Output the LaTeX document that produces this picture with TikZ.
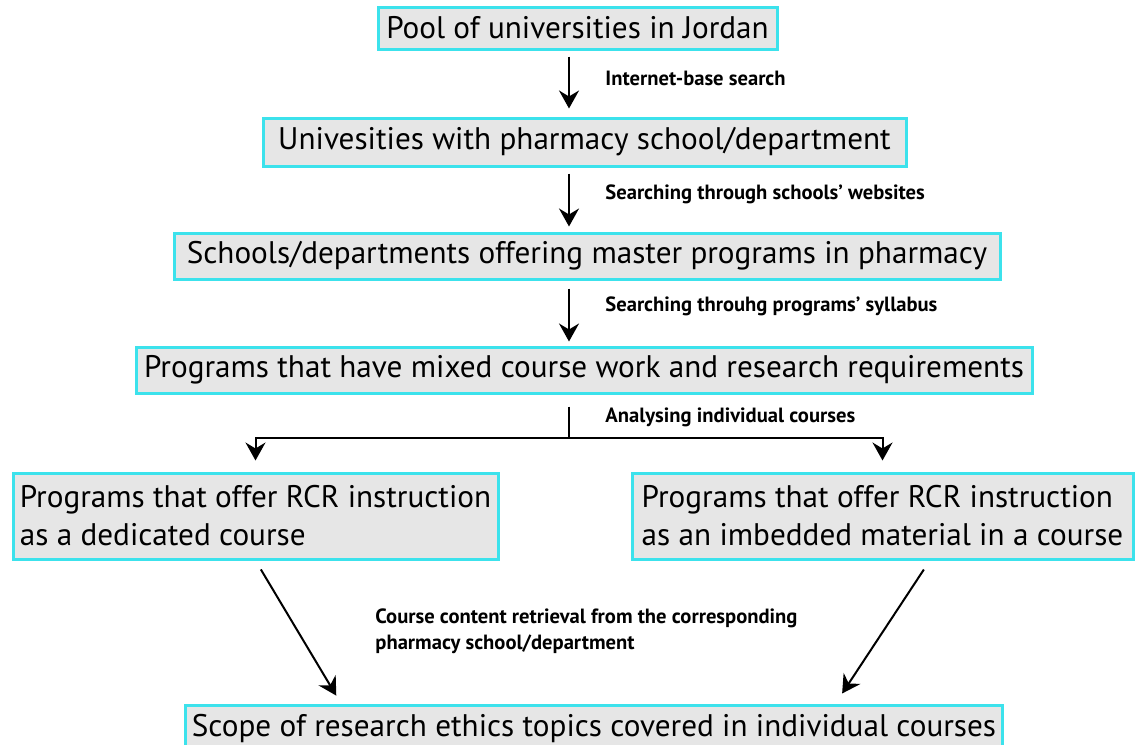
\documentclass[tikz,border=0pt]{standalone}
\usepackage{fontspec}
\setmainfont{PT Sans}
\usetikzlibrary{arrows.meta}

\definecolor{boxcyan}{RGB}{60,226,236}
\definecolor{boxgray}{RGB}{230,230,230}

\tikzset{
  box/.style={draw=boxcyan, fill=boxgray, line width=1.5pt, inner xsep=3pt,
    inner ysep=0pt, font=\fontsize{15.6}{19}\selectfont},
  twoline/.style={box, align=left},
  lab/.style={anchor=west, inner sep=0pt, font=\bfseries\fontsize{10.3}{13}\selectfont},
  arr/.style={line width=1pt, -{Stealth[length=9pt,width=10pt,inset=3pt]}}
}

\begin{document}
\begin{tikzpicture}[x=0.5pt,y=-0.5pt]
        \useasboundingbox (0,0) rectangle (1139,744);

        % main column
        \node[box, minimum width=199.5pt, minimum height=21pt] (pool) at (577.5,28) {Pool of universities in Jordan};
        \node[box, minimum width=321.5pt, minimum height=24pt] (univ) at (584.5,142) {Univesities with pharmacy school/department};
        \node[box, minimum width=413pt, minimum height=23pt] (master) at (587,256) {Schools/departments offering master programs in pharmacy};
        \node[box, minimum width=448pt, minimum height=23pt] (mixed) at (584,370) {Programs that have mixed course work and research requirements};

        % two branches
        \node[twoline, minimum width=242.5pt, minimum height=43pt] (dedicated) at (255.5,516)
          {Programs that offer RCR instruction\\as a dedicated course};
        \node[twoline, minimum width=250.5pt, minimum height=43pt] (embedded) at (882.5,516)
          {Programs that offer RCR instruction\\as an imbedded material in a course};

        % result
        \node[box, minimum width=407pt, minimum height=23pt] (scope) at (594,728) {Scope of research ethics topics covered in individual courses};

        % arrows down the spine
        \coordinate (spine) at (569,0);
        \coordinate (split) at (569,438);
        \draw[arr, shorten <=3pt, shorten >=4pt] (pool.south -| spine) -- (univ.north -| spine);
        \draw[arr, shorten <=3pt, shorten >=2.5pt] (univ.south -| spine) -- (master.north -| spine);
        \draw[arr, shorten <=4pt, shorten >=2pt] (master.south -| spine) -- (mixed.north -| spine);
        \draw[line width=1pt, shorten <=6pt] (mixed.south -| spine) -- (split);
        \draw[arr, shorten >=5.5pt] (split) -| (dedicated.north);
        \draw[arr, shorten >=5.5pt] (split) -| (embedded.north);

        % arrows into the result
        \draw[arr, shorten <=5.2pt, shorten >=4.6pt] (dedicated.south) -- ([xshift=-126.5pt]scope.north);
        \draw[arr, shorten <=5.4pt, shorten >=6pt] ([xshift=23.65pt]embedded.south) -- ([xshift=120.75pt]scope.north);

        % labels
        \node[lab] (l1) at (605,78) {Internet-base search};
        \node[lab] (l2) at (605,194) {Searching through schools’ websites};
        \node[lab] (l3) at (605,306) {Searching throuhg programs’ syllabus};
        \node[lab] (l4) at (605,417) {Analysing individual courses};
        \node[lab, align=left] (l5) at (375,631) {Course content retrieval from the corresponding\\pharmacy school/department};
    \end{tikzpicture}
\end{document}
